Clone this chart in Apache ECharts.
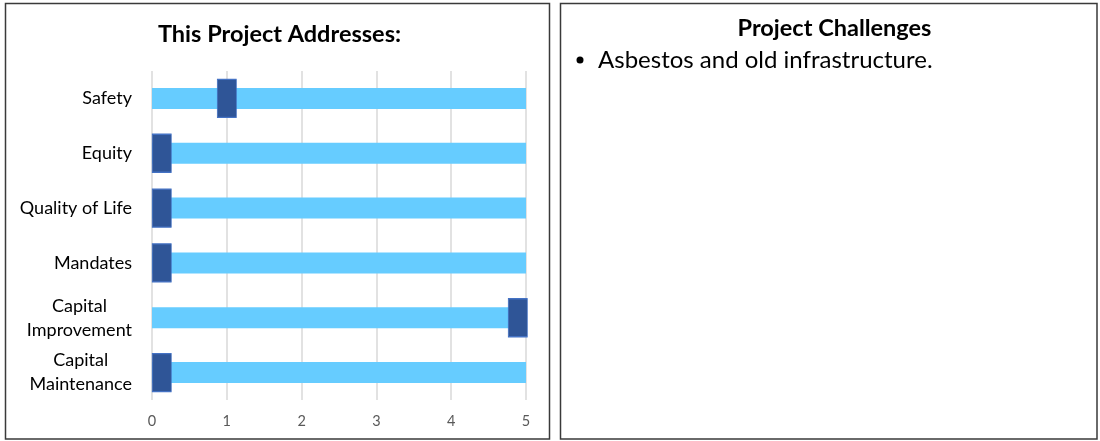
<!DOCTYPE html>
<html>
<head>
<meta charset="utf-8">
<script src="https://cdn.jsdelivr.net/npm/echarts@6/dist/echarts.min.js"></script>
<style>
  html, body { margin: 0; padding: 0; background: #fff; }
  #main { width: 1100px; height: 441px; }
</style>
</head>
<body>
<div id="main"></div>
<script>
// chart data
const categories = ['Safety', 'Equity', 'Quality of Life', 'Mandates', 'Capital\nImprovement', 'Capital\nMaintenance']
const fullScale = [5, 5, 5, 5, 5, 5]
const scores = [1, 0.13, 0.13, 0.13, 4.89, 0.13]
const xTicks = [0, 1, 2, 3, 4, 5]
const chartTitle = 'This Project Addresses:'
const sideTitle = 'Project Challenges'
const challenges = ['Asbestos and old infrastructure.']

const font = 'Lato, "Open Sans", sans-serif'
let chart = echarts.init(document.getElementById('main'))

// right hand panel, bullet list
let bulletItems = []
challenges.forEach(function (txt, i) {
    bulletItems.push({
        type: 'circle',
        shape: { cx: 580, cy: 60 + i * 28, r: 3.5 },
        style: { fill: '#000' }
    })
    bulletItems.push({
        type: 'text',
        x: 598,
        y: 60 + i * 28,
        style: { text: txt, font: '24px ' + font, fill: '#000', textVerticalAlign: 'middle' }
    })
})

let option = {
    animation: false,
    backgroundColor: '#fff',
    grid: { left: 152, right: 574, top: 71, bottom: 41, containLabel: false },
    xAxis: {
        type: 'value',
        min: xTicks[0],
        max: xTicks[xTicks.length - 1],
        interval: 1,
        axisLine: { show: false },
        axisTick: { show: false },
        axisLabel: { color: '#595959', fontSize: 14.5, fontFamily: font, margin: 14 },
        splitLine: { lineStyle: { color: '#d9d9d9', width: 1.5 } }
    },
    yAxis: {
        type: 'category',
        inverse: true,
        data: categories,
        axisLine: { show: false },
        axisTick: { show: false },
        axisLabel: {
            margin: 20,
            align: 'right',
            // centre each line of a two-line label, like the original
            formatter: function (v) {
                return v.split('\n').map(function (s) { return '{c|' + s + '}' }).join('\n')
            },
            rich: {
                c: { color: '#000', fontSize: 18, fontFamily: font, lineHeight: 24, align: 'center' }
            }
        }
    },
    series: [
        {
            name: 'scale',
            type: 'bar',
            data: fullScale,
            barWidth: 21,
            silent: true,
            itemStyle: { color: '#66ccff' }
        },
        {
            name: 'score',
            type: 'scatter',
            data: scores,
            symbol: 'rect',
            symbolSize: [19, 38],
            silent: true,
            z: 5,
            itemStyle: { color: '#2f5597', borderColor: '#4472c4', borderWidth: 1, opacity: 1 }
        }
    ],
    graphic: [
        {
            type: 'rect',
            shape: { x: 5.5, y: 3.5, width: 544, height: 435.5 },
            style: { fill: 'none', stroke: '#3a3a3a', lineWidth: 1.5 }
        },
        {
            type: 'rect',
            shape: { x: 560.5, y: 3.5, width: 536.5, height: 435.5 },
            style: { fill: 'none', stroke: '#3a3a3a', lineWidth: 1.5 }
        },
        {
            type: 'text',
            x: 279.5,
            y: 34,
            style: { text: chartTitle, font: 'bold 23.5px ' + font, fill: '#000', textAlign: 'center', textVerticalAlign: 'middle' }
        },
        {
            type: 'text',
            x: 834.5,
            y: 28,
            style: { text: sideTitle, font: 'bold 23.5px ' + font, fill: '#000', textAlign: 'center', textVerticalAlign: 'middle' }
        }
    ].concat(bulletItems)
}
chart.setOption(option)
</script>
</body>
</html>
